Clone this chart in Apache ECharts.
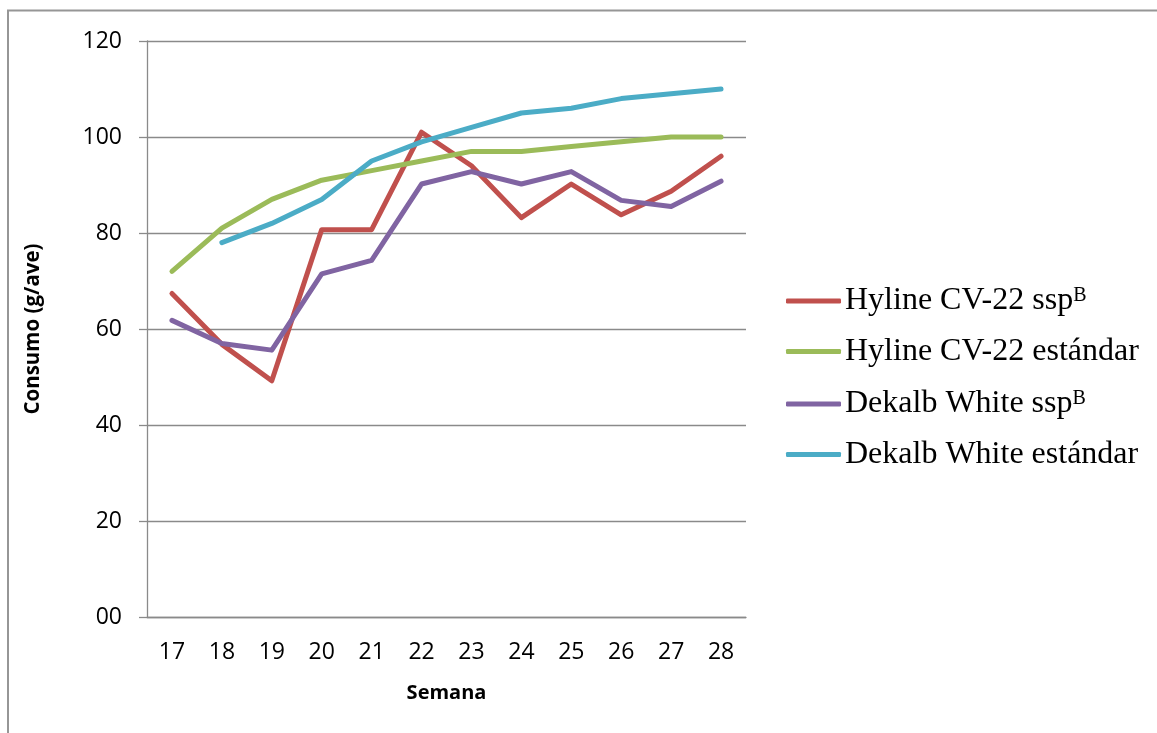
<!DOCTYPE html>
<html>
<head>
<meta charset="utf-8">
<script src="https://cdn.jsdelivr.net/npm/echarts@6/dist/echarts.min.js"></script>
<style>
html,body{margin:0;padding:0;background:#fff;}
#chart{width:1157px;height:733px;}
</style>
</head>
<body>
<div id="chart"></div>
<script>
var weeks = ['17','18','19','20','21','22','23','24','25','26','27','28'];
var yTicks = [0, 20, 40, 60, 80, 100, 120];
var yTickLabels = ['00', '20', '40', '60', '80', '100', '120'];

var hylineSsp = [67.4, 56.8, 49.2, 80.7, 80.7, 101, 94, 83.2, 90.2, 83.8, 88.7, 96];
var hylineStd = [72, 81, 87, 91, 93, 95, 97, 97, 98, 99, 100, 100];
var dekalbSsp = [61.8, 57, 55.6, 71.5, 74.3, 90.2, 92.8, 90.2, 92.8, 86.8, 85.5, 90.8];
var dekalbStd = [null, 78, 82, 87, 95, 99, 102, 105, 106, 108, 109, 110];

var seriesNames = ['Hyline CV-22 ssp', 'Hyline CV-22 estándar', 'Dekalb White ssp', 'Dekalb White estándar'];
var seriesSup = ['B', '', 'B', ''];
var seriesColors = ['#C0504D', '#9BBB59', '#8064A2', '#4BACC6'];
var seriesData = [hylineSsp, hylineStd, dekalbSsp, dekalbStd];

var chart = echarts.init(document.getElementById('chart'), null, {renderer: 'canvas'});
var gridColor = '#8a8a8a';
var sansFont = '"Open Sans", "Noto Sans", sans-serif';
var serifFont = '"Liberation Serif", "Times New Roman", serif';

var series = seriesNames.map(function (n, i) {
  return {
    name: n,
    type: 'line',
    data: seriesData[i],
    symbol: 'none',
    color: seriesColors[i],
    lineStyle: {width: 5, color: seriesColors[i], cap: 'round', join: 'round'},
    animation: false
  };
});

chart.setOption({
  animation: false,
  backgroundColor: '#fff',
  graphic: [{
    type: 'rect',
    shape: {x: 8, y: 10.5, width: 1300, height: 900},
    style: {fill: 'none', stroke: '#969696', lineWidth: 2},
    silent: true
  }],
  grid: {left: 147, right: 411, top: 41, bottom: 116, containLabel: false},
  xAxis: {
    type: 'category',
    data: weeks,
    boundaryGap: true,
    name: 'Semana',
    nameLocation: 'middle',
    nameGap: 66,
    nameTextStyle: {fontFamily: sansFont, fontWeight: 'bold', fontSize: 20, color: '#000'},
    axisLine: {show: true, lineStyle: {color: gridColor, width: 1.3}},
    axisTick: {show: false},
    axisLabel: {fontFamily: sansFont, fontSize: 23, color: '#000', margin: 24},
    splitLine: {show: false}
  },
  yAxis: {
    type: 'value',
    min: 0,
    max: 120,
    interval: 20,
    name: 'Consumo (g/ave)',
    nameLocation: 'middle',
    nameRotate: 90,
    nameGap: 103,
    nameTextStyle: {fontFamily: sansFont, fontWeight: 'bold', fontSize: 20.5, color: '#000'},
    axisLine: {show: true, lineStyle: {color: gridColor, width: 1.3}},
    axisTick: {show: true, length: 8, lineStyle: {color: gridColor, width: 1.3}},
    axisLabel: {
      fontFamily: sansFont, fontSize: 23, color: '#000', margin: 25,
      formatter: function (v) {
        var k = yTicks.indexOf(v);
        return k >= 0 ? yTickLabels[k] : String(v);
      }
    },
    splitLine: {show: true, lineStyle: {color: gridColor, width: 1.3}}
  },
  legend: {
    orient: 'vertical',
    left: 786,
    top: 283,
    padding: 0,
    itemWidth: 55,
    itemHeight: 5,
    itemGap: 18.5,
    data: seriesNames.map(function (n, i) {
      return {name: n, icon: 'roundRect', itemStyle: {color: seriesColors[i], borderWidth: 0}};
    }),
    formatter: function (name) {
      var i = seriesNames.indexOf(name);
      return '{n|' + name + '}' + (seriesSup[i] ? '{sup|' + seriesSup[i] + '}' : '');
    },
    textStyle: {
      fontFamily: serifFont,
      fontSize: 32,
      color: '#000',
      padding: [0, 0, 0, -1],
      rich: {
        n: {fontFamily: serifFont, fontSize: 32, color: '#000', lineHeight: 36},
        sup: {fontFamily: serifFont, fontSize: 20, color: '#000', lineHeight: 36, verticalAlign: 'top', padding: [3, 0, 0, 0]}
      }
    }
  },
  series: series
});
</script>
</body>
</html>
